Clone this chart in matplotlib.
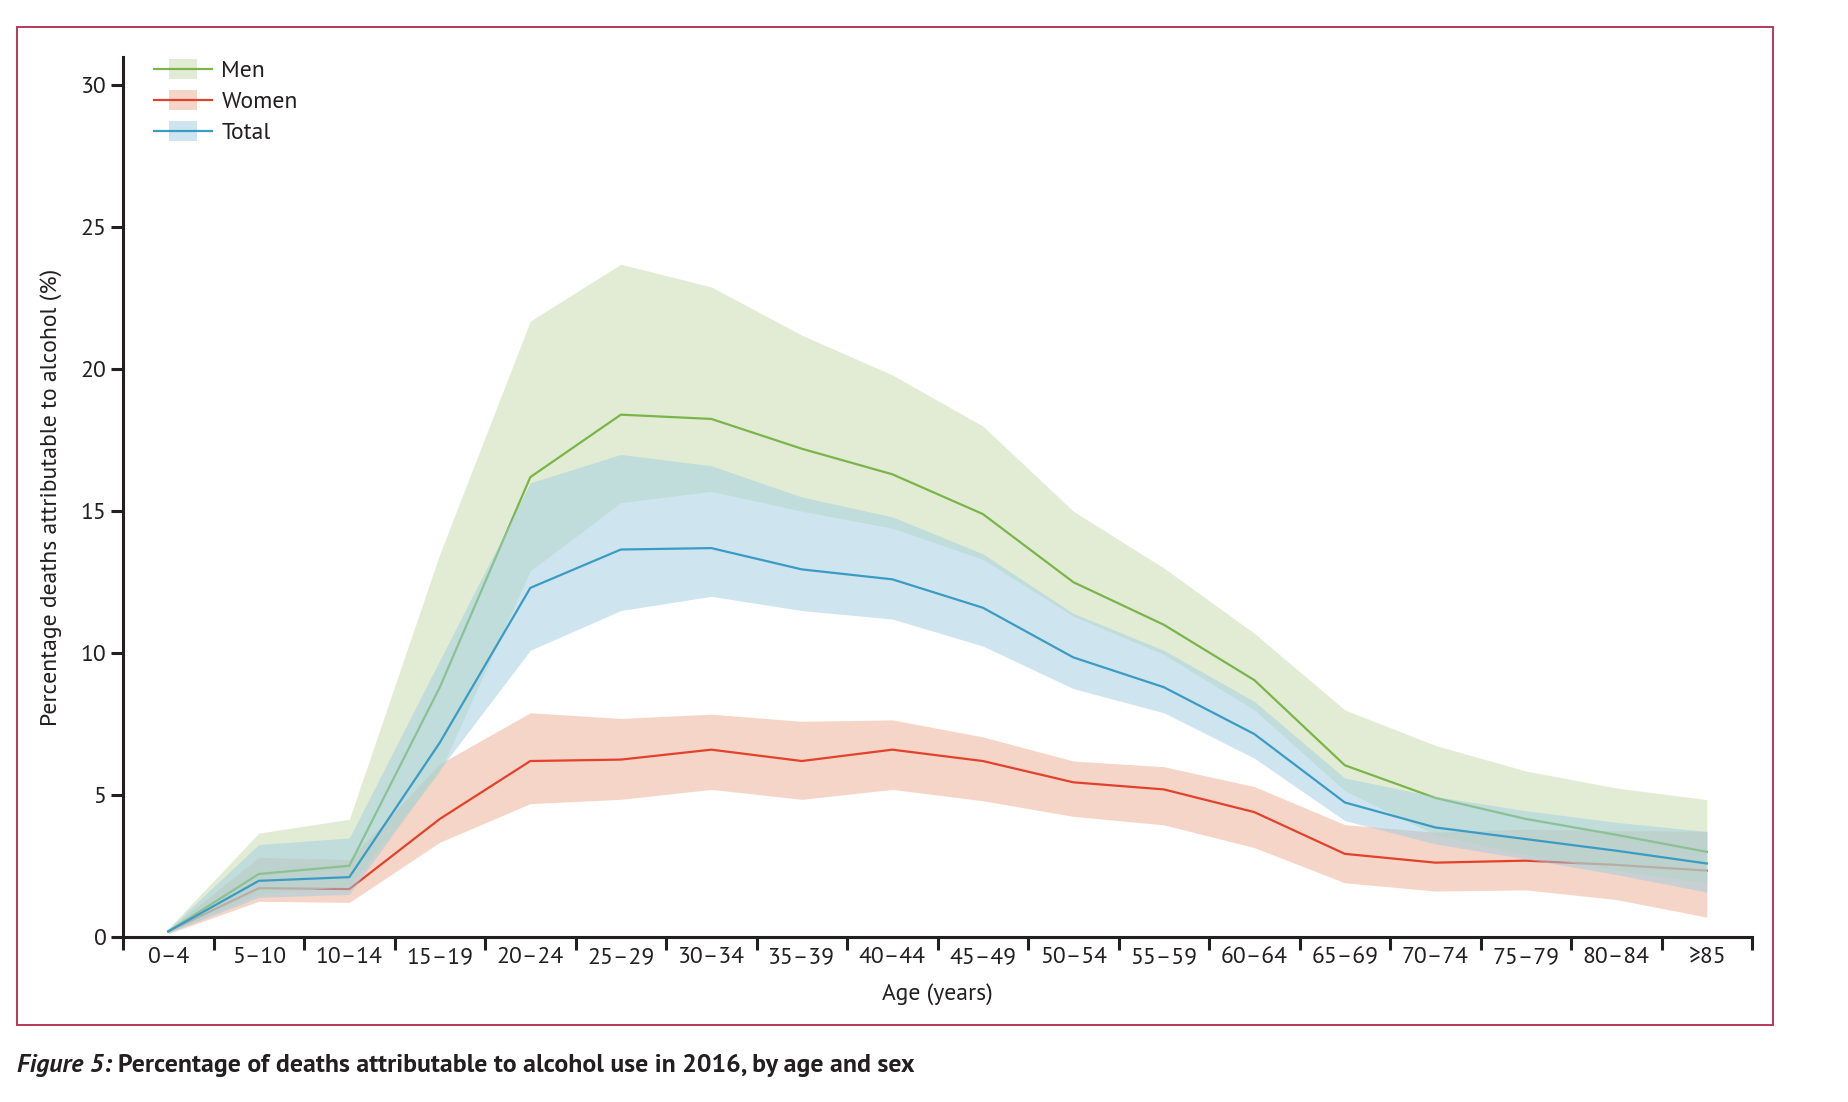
import numpy as np
import matplotlib
matplotlib.use("Agg")
import matplotlib.pyplot as plt
from matplotlib import font_manager
from matplotlib.patches import Rectangle
from matplotlib.lines import Line2D
from matplotlib.legend_handler import HandlerBase

# Data
ages = ["0–4", "5–10", "10–14", "15–19", "20–24", "25–29", "30–34", "35–39", "40–44",
        "45–49", "50–54", "55–59", "60–64", "65–69", "70–74", "75–79", "80–84", "≥85"]

men = [0.2, 2.22, 2.51, 8.8, 16.2, 18.4, 18.25, 17.2, 16.3, 14.9, 12.5, 11.0, 9.05, 6.05, 4.9, 4.16, 3.6, 3.0]
men_hi = [0.3, 3.66, 4.15, 13.5, 21.7, 23.7, 22.9, 21.2, 19.8, 18.0, 15.0, 13.0, 10.7, 8.0, 6.75, 5.85, 5.25, 4.84]
men_lo = [0.15, 1.5, 1.8, 5.8, 12.9, 15.3, 15.7, 15.0, 14.4, 13.3, 11.3, 9.95, 8.0, 5.15, 3.6, 2.9, 2.35, 1.9]

women = [0.2, 1.72, 1.69, 4.16, 6.2, 6.25, 6.6, 6.2, 6.6, 6.2, 5.45, 5.2, 4.4, 2.93, 2.62, 2.69, 2.54, 2.34]
women_hi = [0.25, 2.81, 2.73, 6.1, 7.9, 7.7, 7.85, 7.6, 7.65, 7.05, 6.2, 6.0, 5.3, 3.96, 3.69, 3.8, 3.75, 3.72]
women_lo = [0.12, 1.26, 1.22, 3.34, 4.7, 4.85, 5.2, 4.85, 5.2, 4.8, 4.25, 3.95, 3.15, 1.91, 1.62, 1.66, 1.32, 0.70]

total = [0.2, 1.98, 2.11, 6.85, 12.3, 13.65, 13.7, 12.95, 12.6, 11.6, 9.85, 8.8, 7.15, 4.74, 3.86, 3.45, 3.04, 2.59]
total_hi = [0.28, 3.26, 3.49, 9.75, 16.0, 17.0, 16.6, 15.5, 14.8, 13.5, 11.4, 10.1, 8.3, 5.6, 4.95, 4.45, 4.04, 3.72]
total_lo = [0.15, 1.4, 1.5, 5.9, 10.1, 11.5, 12.0, 11.5, 11.2, 10.25, 8.75, 7.9, 6.3, 4.1, 3.28, 2.75, 2.2, 1.58]

# Font: something close to Myriad (static weights needed for the bold caption)
names = {f.name for f in font_manager.fontManager.ttflist}
family = [n for n in ("PT Sans", "Fira Sans", "Liberation Sans") if n in names][:1]
plt.rcParams["font.family"] = family + ["DejaVu Sans"]

INK = "#231f20"
MEN_LINE, MEN_FILL = "#79b548", "#c7dbad"
WOMEN_LINE, WOMEN_FILL = "#e2412b", "#edad91"
TOTAL_LINE, TOTAL_FILL = "#3a9bc4", "#9fcde1"
ALPHA = 0.5
FS = 17


class BandHandler(HandlerBase):
    """Legend key: a short filled box with a line across it."""
    def __init__(self, fill, line):
        super().__init__()
        self.fill = fill
        self.line = line

    def create_artists(self, legend, orig_handle, xdescent, ydescent, width, height, fontsize, trans):
        bw = width * 0.5
        bh = height * 1.25
        box = Rectangle((xdescent + (width - bw) / 2, ydescent + (height - bh) / 2), bw, bh,
                        facecolor=self.fill, alpha=ALPHA, edgecolor="none", transform=trans)
        ln = Line2D([xdescent, xdescent + width], [ydescent + height / 2] * 2,
                    color=self.line, lw=1.6, transform=trans)
        return [box, ln]


fig = plt.figure(figsize=(18.48, 11.02), dpi=100)
ax = fig.add_axes([0.0666, 0.1497, 0.8815, 0.7986])

x = np.arange(len(ages))

# women first, then men, then total on top (bands wash over the earlier lines)
ax.fill_between(x, women_lo, women_hi, color=WOMEN_FILL, alpha=ALPHA, lw=0, zorder=1)
ax.plot(x, women, color=WOMEN_LINE, lw=1.6, zorder=2)
ax.fill_between(x, men_lo, men_hi, color=MEN_FILL, alpha=ALPHA, lw=0, zorder=3)
ax.plot(x, men, color=MEN_LINE, lw=1.6, zorder=4)
ax.fill_between(x, total_lo, total_hi, color=TOTAL_FILL, alpha=ALPHA, lw=0, zorder=5)
ax.plot(x, total, color=TOTAL_LINE, lw=1.6, zorder=6)

ax.set_xlim(-0.5, len(ages) - 0.5)
ax.set_ylim(0, 31)

for side in ("top", "right"):
    ax.spines[side].set_visible(False)
for side in ("left", "bottom"):
    ax.spines[side].set_linewidth(2.2)
    ax.spines[side].set_color(INK)

ax.set_yticks(np.arange(0, 31, 5))
ax.tick_params(axis="y", length=9, width=2.2, color=INK, labelcolor=INK, labelsize=FS, pad=3)
ax.set_xticks(x)
ax.set_xticklabels(ages)
ax.set_xticks(np.arange(-0.5, len(ages), 1), minor=True)
ax.tick_params(axis="x", which="major", length=0, labelcolor=INK, labelsize=FS, pad=7)
ax.tick_params(axis="x", which="minor", length=9, width=2.2, color=INK)

ax.set_xlabel("Age (years)", fontsize=FS, color=INK, labelpad=11)
ax.set_ylabel("Percentage deaths attributable to alcohol (%)", fontsize=FS, color=INK, labelpad=13)

keys = [Rectangle((0, 0), 1, 1), Rectangle((0, 0), 1, 1), Rectangle((0, 0), 1, 1)]
leg = ax.legend(keys, ["Men", "Women", "Total"], loc="upper left",
                bbox_to_anchor=(0.006, 1.02), frameon=False, fontsize=FS,
                handlelength=2.45, handletextpad=0.4, labelspacing=0.4,
                handler_map={keys[0]: BandHandler(MEN_FILL, MEN_LINE),
                             keys[1]: BandHandler(WOMEN_FILL, WOMEN_LINE),
                             keys[2]: BandHandler(TOTAL_FILL, TOTAL_LINE)})
for t in leg.get_texts():
    t.set_color(INK)

# Outer frame
fig.patches.append(Rectangle((0.0092, 0.0699), 0.9502, 0.9056, transform=fig.transFigure,
                             fill=False, edgecolor="#b5395b", lw=1.4))

# Caption
cap1 = fig.text(0.0092, 0.0272, "Figure 5:", fontsize=18.5, fontweight="bold",
                fontstyle="italic", color=INK)
fig.canvas.draw()
bb = cap1.get_window_extent(fig.canvas.get_renderer())
fig.text(bb.x1 / fig.bbox.width + 0.0035, 0.0272,
         "Percentage of deaths attributable to alcohol use in 2016, by age and sex",
         fontsize=18.5, fontweight="bold", color=INK)

fig.savefig("out.png", dpi=100)
